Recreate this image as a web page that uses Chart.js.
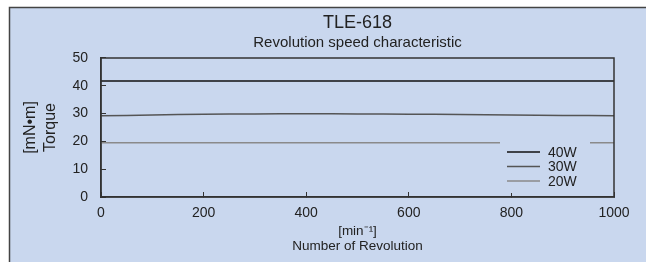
<!DOCTYPE html>
<html>
<head>
<meta charset="utf-8">
<script src="https://cdn.jsdelivr.net/npm/chart.js@4/dist/chart.umd.min.js"></script>
<style>
  html, body { margin: 0; padding: 0; background: #fff; }
  #wrap { width: 646px; height: 262px; }
</style>
</head>
<body>
<div id="wrap"><canvas id="myChart" width="646" height="262"></canvas></div>
<script>
// Datos
const revolutions = [0, 100, 200, 300, 400, 500, 600, 700, 800, 900, 1000];
const torque40W = [41.7, 41.7, 41.7, 41.7, 41.7, 41.7, 41.7, 41.7, 41.7, 41.7, 41.7];
const torque30W = [29.2, 29.5, 29.75, 29.9, 29.95, 29.9, 29.8, 29.65, 29.5, 29.35, 29.2];
const torque20W = [19.5, 19.5, 19.5, 19.5, 19.5, 19.5, 19.5, 19.5, 19.5, 19.5, 19.5];
const seriesLabels = ["40W", "30W", "20W"];
const seriesColors = ["#111111", "#555555", "#8a8a8a"];
const xTickValues = [0, 200, 400, 600, 800, 1000];
const yTickValues = [0, 10, 20, 30, 40, 50];

const bgColor = "#c9d7ee";
const textColor = "#222222";
const fontFamily = "'Liberation Sans', Arial, sans-serif";

const toPoints = (values) => revolutions.map((rev, i) => ({ x: rev, y: values[i] }));

const datasets = [torque40W, torque30W, torque20W].map((values, i) => ({
  label: seriesLabels[i],
  data: toPoints(values),
  borderColor: seriesColors[i],
  borderWidth: 1.5,
  pointRadius: 0,
  tension: 0.4,
}));

// Fondo celeste con borde a la izquierda y arriba
const panelBackground = {
  id: "panelBackground",
  beforeDraw: (chart) => {
    const ctx = chart.ctx;
    ctx.save();
    ctx.fillStyle = "#ffffff";
    ctx.fillRect(0, 0, chart.width, chart.height);
    ctx.fillStyle = bgColor;
    ctx.fillRect(9, 7, chart.width - 9, chart.height - 7);
    ctx.strokeStyle = "#444";
    ctx.lineWidth = 1.5;
    ctx.beginPath();
    ctx.moveTo(9.5, chart.height);
    ctx.lineTo(9.5, 7.5);
    ctx.lineTo(chart.width, 7.5);
    ctx.stroke();
    ctx.restore();
  },
};

// Leyenda dentro del area del grafico, abajo a la derecha
const innerLegend = {
  id: "innerLegend",
  afterDatasetsDraw: (chart) => {
    const ctx = chart.ctx;
    const area = chart.chartArea;
    const boxLeft = area.right - 114;
    const boxTop = area.bottom - 62;
    ctx.save();
    ctx.fillStyle = bgColor;
    ctx.fillRect(boxLeft, boxTop, 90, 58);
    ctx.font = "14px " + fontFamily;
    ctx.textBaseline = "middle";
    chart.data.datasets.forEach((ds, i) => {
      const y = area.bottom - 45 + i * 14.5;
      ctx.strokeStyle = ds.borderColor;
      ctx.lineWidth = 1.5;
      ctx.beginPath();
      ctx.moveTo(boxLeft + 7, y);
      ctx.lineTo(boxLeft + 40, y);
      ctx.stroke();
      ctx.fillStyle = textColor;
      ctx.fillText(ds.label, boxLeft + 48, y + 1);
    });
    ctx.restore();
  },
};

// Marco del area de trazado
const plotFrame = {
  id: "plotFrame",
  afterDraw: (chart) => {
    const ctx = chart.ctx;
    const area = chart.chartArea;
    ctx.save();
    ctx.strokeStyle = "#333";
    ctx.lineWidth = 1.5;
    ctx.strokeRect(area.left, area.top, area.right - area.left, area.bottom - area.top);
    ctx.restore();
  },
};

const config = {
  type: "line",
  data: { datasets: datasets },
  options: {
    responsive: false,
    animation: false,
    layout: { padding: { left: 0, right: 32, top: 8, bottom: 4 } },
    plugins: {
      legend: { display: false },
      tooltip: { enabled: false },
      title: {
        display: true,
        text: "TLE-618",
        fullSize: false,
        color: textColor,
        font: { family: fontFamily, size: 18, weight: "normal" },
        padding: { top: 4, bottom: 0 },
      },
      subtitle: {
        display: true,
        text: "Revolution speed characteristic",
        fullSize: false,
        color: textColor,
        font: { family: fontFamily, size: 15, weight: "normal" },
        padding: { top: 0, bottom: 6.4 },
      },
    },
    scales: {
      x: {
        type: "linear",
        min: 0,
        max: 1000,
        afterBuildTicks: (scale) => { scale.ticks = xTickValues.map((v) => ({ value: v })); },
        grid: { drawOnChartArea: false, tickLength: -5, color: "#333", lineWidth: 1 },
        border: { color: "#333", width: 1.5 },
        ticks: {
          color: textColor,
          padding: 13,
          maxRotation: 0,
          font: { family: fontFamily, size: 14 },
          callback: (value) => String(value),
        },
        title: {
          display: true,
          text: ["[min⁻¹]", "Number of Revolution"],
          color: textColor,
          font: { family: fontFamily, size: 13.5, lineHeight: 1.12 },
          padding: { top: 2, bottom: 4 },
        },
        afterFit: (scale) => { scale.height = 61; },
      },
      y: {
        min: 0,
        max: 50,
        afterBuildTicks: (scale) => { scale.ticks = yTickValues.map((v) => ({ value: v })); },
        grid: { drawOnChartArea: false, tickLength: -5, color: "#333", lineWidth: 1 },
        border: { color: "#333", width: 1.5 },
        ticks: { color: textColor, padding: 18, font: { family: fontFamily, size: 14 } },
        title: {
          display: true,
          text: ["[mN•m]", "Torque"],
          color: textColor,
          font: { family: fontFamily, size: 16, lineHeight: 1.25 },
          padding: { top: 21, bottom: 4 },
        },
        afterFit: (scale) => { scale.width = 101; },
      },
    },
  },
  plugins: [panelBackground, innerLegend, plotFrame],
};

const myChart = document.querySelector("#myChart");
myChart.chart = new Chart(myChart, config);
</script>
</body>
</html>
